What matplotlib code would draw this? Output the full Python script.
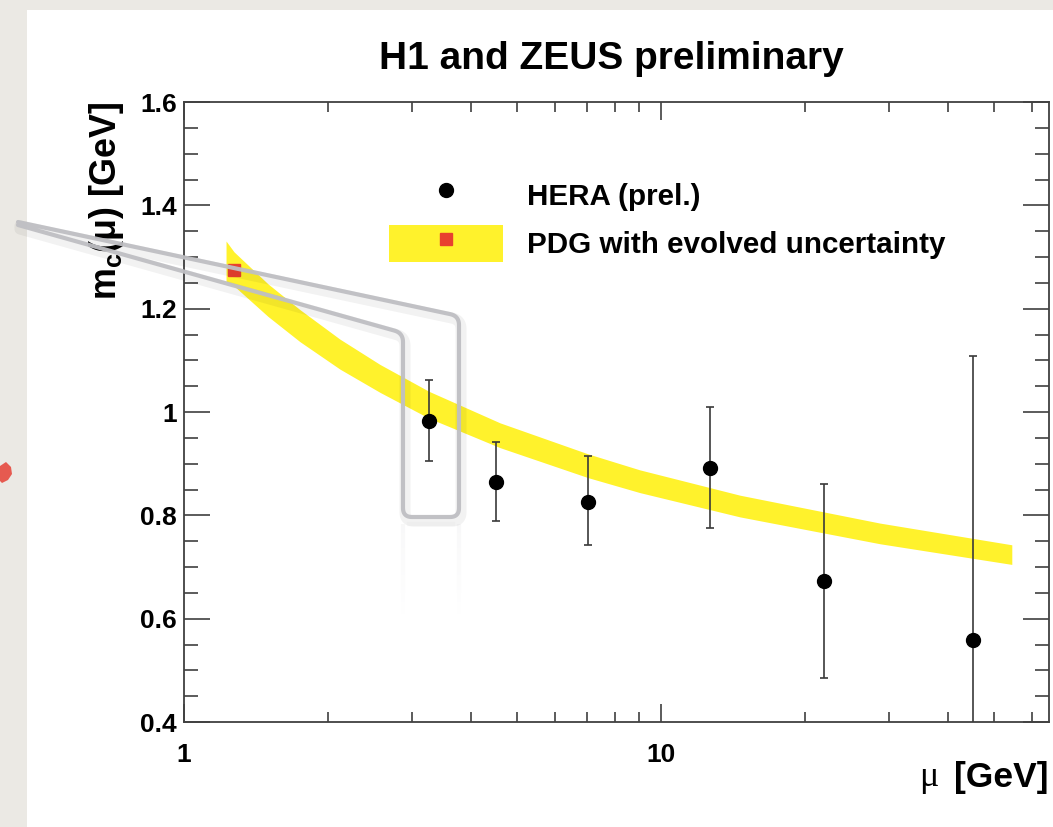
import matplotlib
matplotlib.use('Agg')
import matplotlib.pyplot as plt
import numpy as np
from matplotlib.lines import Line2D
from matplotlib.patches import Patch, Rectangle, Polygon
from matplotlib.legend_handler import HandlerTuple
from matplotlib.ticker import FixedLocator, FixedFormatter, NullFormatter, MultipleLocator

plt.rcParams['font.family'] = ['Liberation Sans', 'DejaVu Sans']
plt.rcParams['font.weight'] = 'bold'
plt.rcParams['mathtext.fontset'] = 'custom'
plt.rcParams['mathtext.rm'] = 'Liberation Sans:bold'
plt.rcParams['mathtext.it'] = 'Liberation Sans:bold'
plt.rcParams['mathtext.bf'] = 'Liberation Sans:bold'

# ---------------- data ----------------
title = "H1 and ZEUS preliminary"
legend_labels = ["HERA (prel.)", "PDG with evolved uncertainty"]

hera_mu = [3.26, 4.51, 7.04, 12.7, 22.0, 45.0]
hera_mc = [0.983, 0.865, 0.826, 0.892, 0.673, 0.559]
hera_err_up = [0.079, 0.076, 0.089, 0.118, 0.188, 0.550]
hera_err_dn = [0.078, 0.075, 0.083, 0.117, 0.188, 0.550]

pdg_mu = [1.27]
pdg_mc = [1.275]

band_mu = [1.225, 1.273, 1.50, 1.751, 2.123, 2.576, 3.263, 4.598, 7.03, 9.03, 14.64, 28.78, 54.4]
band_lo = [1.253, 1.244, 1.185, 1.136, 1.083, 1.038, 0.988, 0.931, 0.873, 0.844, 0.797, 0.745, 0.705]
band_hi = [1.331, 1.310, 1.248, 1.198, 1.141, 1.092, 1.040, 0.979, 0.919, 0.888, 0.839, 0.785, 0.743]

x_major_ticks = [1, 10]
x_major_labels = ["1", "10"]
x_minor_ticks = [2, 3, 4, 5, 6, 7, 8, 9, 20, 30, 40, 50, 60]
y_ticks = [0.4, 0.6, 0.8, 1.0, 1.2, 1.4, 1.6]
y_labels = ["0.4", "0.6", "0.8", "1", "1.2", "1.4", "1.6"]

YELLOW = '#fff22c'
RED = '#e8412f'
GRAY = '#bfbfc3'

# ---------------- figure ----------------
W, H = 1053, 827
fig = plt.figure(figsize=(W / 100, H / 100), dpi=100)
fig.patch.set_facecolor('#ebe9e4')
fig.patches.append(Rectangle((27 / W, 0), 1 - 27 / W, 1 - 10 / H, transform=fig.transFigure,
                             facecolor='white', edgecolor='none', zorder=-5))

ax = fig.add_axes([184 / W, 1 - 722 / H, (1049 - 184) / W, (722 - 102) / H], zorder=1)
ax.set_facecolor('white')

ax.fill_between(band_mu, band_lo, band_hi, color=YELLOW, lw=0, zorder=2)
ax.errorbar(hera_mu, hera_mc, yerr=[hera_err_dn, hera_err_up], fmt='o', color='black',
            ms=10, ecolor='#3a3a3a', elinewidth=1.2, capsize=3, capthick=1.2, zorder=4)
ax.plot(pdg_mu, pdg_mc, 's', color=RED, ms=9, zorder=5)

ax.set_xscale('log')
ax.set_xlim(1, 65.1)
ax.set_ylim(0.4, 1.6)
ax.xaxis.set_major_locator(FixedLocator(x_major_ticks))
ax.xaxis.set_major_formatter(FixedFormatter(x_major_labels))
ax.xaxis.set_minor_locator(FixedLocator(x_minor_ticks))
ax.xaxis.set_minor_formatter(NullFormatter())
ax.yaxis.set_major_locator(FixedLocator(y_ticks))
ax.yaxis.set_major_formatter(FixedFormatter(y_labels))
ax.yaxis.set_minor_locator(MultipleLocator(0.05))

tc = '#404040'
ax.tick_params(axis='both', which='both', direction='in', top=True, right=True, color=tc, width=1.2)
ax.tick_params(axis='y', which='major', length=19, pad=5, labelsize=19)
ax.tick_params(axis='y', which='minor', length=10)
ax.tick_params(axis='x', which='major', length=13, pad=15, labelsize=19)
ax.tick_params(axis='x', which='minor', length=7)
for s in ax.spines.values():
    s.set_color(tc)
    s.set_linewidth(1.3)

# legend
h_hera = Line2D([], [], marker='o', color='black', ls='none', ms=10)
h_pdg = (Patch(facecolor=YELLOW, edgecolor='none'),
         Line2D([], [], marker='s', color=RED, ls='none', ms=9))
ax.legend([h_hera, h_pdg], legend_labels, handler_map={tuple: HandlerTuple(ndivide=1, pad=0)},
          loc='upper left', bbox_to_anchor=(389 / W, 1 - 176 / H), bbox_transform=fig.transFigure,
          frameon=False, borderpad=0, borderaxespad=0, fontsize=21.3, handlelength=3.85,
          handleheight=1.58, handletextpad=0.81, labelspacing=0.375)

# texts
fig.text(611 / W, 1 - 59 / H, title, ha='center', va='center', fontsize=28, weight='bold')
fig.text(106 / W, 1 - 101 / H, r'm$_{\mathbf{c}}$(μ) [GeV]', rotation=90, ha='center', va='top',
         fontsize=25.8, weight='bold')
fig.text(1048 / W, 1 - 778 / H, '[GeV]', ha='right', va='center', fontsize=25.5, weight='bold')
fig.text(938 / W, 1 - 778 / H, 'μ', ha='right', va='center', fontsize=26,
         family=['Liberation Serif', 'DejaVu Serif'], weight='normal')

# ---------------- decorations (callout overlay) ----------------
ov = fig.add_axes([0, 0, 1, 1], zorder=10)
ov.set_xlim(0, W)
ov.set_ylim(H, 0)
ov.axis('off')
ov.patch.set_alpha(0)


def rounded(points, r):
    pts = [np.array(p, float) for p in points]
    out = [pts[0]]
    for i in range(1, len(pts) - 1):
        p0, p1, p2 = pts[i - 1], pts[i], pts[i + 1]
        d1 = (p0 - p1) / np.linalg.norm(p0 - p1)
        d2 = (p2 - p1) / np.linalg.norm(p2 - p1)
        a = p1 + d1 * r
        b = p1 + d2 * r
        t = np.linspace(0, 1, 10)[:, None]
        out.extend((1 - t) ** 2 * a + 2 * (1 - t) * t * p1 + t ** 2 * b)
    out.append(pts[-1])
    return np.array(out)


call = rounded([(18, 222), (459, 316), (459, 517), (403, 517), (403, 333), (18, 225)], 9)
ov.plot(call[:, 0] + 2, call[:, 1] + 4, color='black', lw=8, alpha=0.05, solid_capstyle='round')
ov.plot(call[:, 0], call[:, 1], color=GRAY, lw=3.0, alpha=0.95, solid_capstyle='round',
        solid_joinstyle='round')

# faint reflection below the box
n = 30
for i in range(n):
    y0 = 524 + i * 3
    a = 0.10 * (1 - i / n)
    ov.plot([403, 403], [y0, y0 + 3], color=GRAY, lw=3, alpha=a, solid_capstyle='butt')
    ov.plot([459, 459], [y0, y0 + 3], color=GRAY, lw=3, alpha=a, solid_capstyle='butt')
ov.plot([409, 453], [524, 524], color=GRAY, lw=3, alpha=0.08)

# red scribble on the paper edge
ov.add_patch(Polygon([(0, 466), (6, 462), (11, 467), (12, 474), (8, 480), (2, 483), (0, 481)],
                     closed=True, facecolor='#e65a50', edgecolor='none'))

fig.savefig('out.png', dpi=100, facecolor=fig.get_facecolor())
